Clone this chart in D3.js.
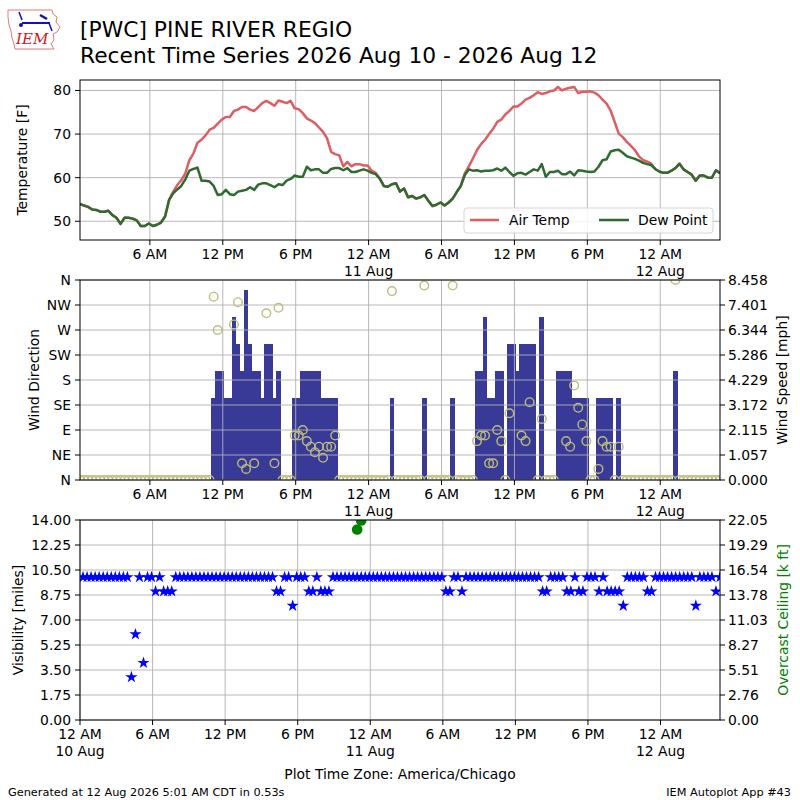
<!DOCTYPE html>
<html>
<head>
<meta charset="utf-8">
<script src="https://cdn.jsdelivr.net/npm/d3@7"></script>
<style>
  body { margin: 0; background: #fff; }
  svg text { font-family: "DejaVu Sans", sans-serif; fill: #000; }
</style>
</head>
<body>
<svg id="chart" width="800" height="800"></svg>
<script>
// observations every 20 minutes, first report 10 Aug 00:15 (plot time zone)
var obsStart = Date.UTC(2026, 7, 10, 0, 15);
var obsStepMin = 20;
var visStart = Date.UTC(2026, 7, 10, 0, 0);

var tmpf = [54.0, 53.6, 53.3, 52.7, 52.6, 52.2, 52.2, 52.4, 51.4, 50.8,
  49.4, 50.8, 50.8, 50.6, 50.2, 48.9, 48.9, 49.5, 48.9, 49.2,
  49.7, 51.1, 54.9, 56.8, 58.3, 59.4, 61.0, 64.0, 65.5, 68.0,
  68.7, 69.7, 71.0, 71.4, 72.4, 73.3, 73.9, 73.9, 75.3, 75.6,
  76.2, 76.2, 75.6, 75.3, 76.2, 77.1, 77.6, 77.1, 76.5, 77.7,
  77.4, 77.1, 77.6, 75.9, 75.7, 74.8, 73.6, 73.1, 72.5, 71.5,
  70.5, 69.0, 65.9, 65.4, 65.1, 62.6, 63.6, 62.6, 63.1, 63.1,
  62.8, 62.8, 61.6, 61.1, 59.8, 58.1, 57.9, 58.5, 58.7, 56.8,
  57.5, 55.5, 55.8, 55.2, 55.5, 56.0, 54.7, 53.5, 53.8, 54.3,
  53.6, 54.3, 55.2, 56.7, 58.1, 61.0, 62.6, 64.4, 66.3, 67.7,
  68.7, 70.0, 71.2, 72.8, 73.3, 74.5, 75.3, 76.3, 76.3, 77.0,
  77.9, 78.3, 78.9, 79.6, 79.2, 79.4, 79.8, 80.0, 80.8, 80.0,
  80.4, 80.6, 80.8, 79.4, 79.7, 79.7, 79.8, 79.5, 78.9, 77.9,
  77.0, 75.4, 72.8, 70.1, 69.3, 68.2, 67.3, 66.3, 64.9, 64.0,
  63.7, 63.2, 62.0, 61.4, 61.1, 61.1, 61.6, 62.2, 63.2, 61.9,
  61.3, 60.7, 59.3, 60.5, 60.5, 60.0, 60.0, 61.7, 61.0];

var dwpf = [54.0, 53.6, 53.3, 52.7, 52.6, 52.2, 52.2, 52.4, 51.4, 50.8,
  49.4, 50.8, 50.8, 50.6, 50.2, 48.9, 48.9, 49.5, 48.9, 49.2,
  49.7, 51.1, 54.9, 56.4, 57.3, 58.1, 59.6, 61.6, 62.0, 62.3,
  59.3, 59.3, 59.1, 58.1, 56.0, 56.2, 57.2, 56.2, 56.0, 56.8,
  57.0, 57.2, 57.8, 57.2, 58.4, 58.7, 58.7, 58.3, 57.8, 58.5,
  58.3, 59.3, 59.7, 60.5, 60.2, 60.2, 62.5, 61.7, 61.9, 61.9,
  61.1, 61.1, 62.0, 62.2, 62.2, 61.7, 62.2, 61.3, 61.3, 61.6,
  61.9, 61.6, 61.1, 60.8, 59.8, 58.1, 57.9, 58.5, 58.7, 56.8,
  57.5, 55.5, 55.8, 55.2, 55.5, 56.0, 54.7, 53.5, 53.8, 54.3,
  53.6, 54.3, 55.2, 56.7, 58.1, 60.6, 61.9, 61.6, 61.7, 61.4,
  61.6, 61.6, 61.7, 62.1, 61.6, 62.3, 61.3, 60.4, 61.0, 61.1,
  60.7, 61.3, 61.9, 61.6, 63.1, 60.2, 61.3, 61.3, 61.6, 60.8,
  60.8, 61.4, 60.5, 61.7, 61.6, 61.4, 61.3, 61.4, 62.5, 64.0,
  64.2, 66.0, 66.3, 66.4, 65.7, 64.9, 64.6, 64.3, 63.9, 63.4,
  63.1, 62.9, 62.0, 61.4, 61.1, 61.1, 61.6, 62.2, 63.2, 61.9,
  61.3, 60.7, 59.3, 60.5, 60.5, 60.0, 60.0, 61.7, 61.0];

// wind speed [mph]
var sped = [0, 0, 0, 0, 0, 0, 0, 0, 0, 0,
  0, 0, 0, 0, 0, 0, 0, 0, 0, 0,
  0, 0, 0, 0, 0, 0, 0, 0, 0, 0,
  0, 0, 0, 3.45, 4.6, 4.6, 3.45, 3.45, 6.9, 5.75,
  4.6, 8.05, 5.75, 4.6, 4.6, 3.45, 5.75, 5.75, 3.45, 4.6,
  0, 0, 0, 3.45, 3.45, 4.6, 4.6, 4.6, 4.6, 4.6,
  3.45, 3.45, 3.45, 3.45, 0, 0, 0, 0, 0, 0,
  0, 0, 0, 0, 0, 0, 0, 3.45, 0, 0,
  0, 0, 0, 0, 0, 3.45, 0, 0, 0, 0,
  0, 0, 3.45, 0, 0, 0, 0, 0, 4.6, 4.6,
  6.9, 3.45, 3.45, 4.6, 4.6, 0, 5.75, 5.75, 4.6, 5.75,
  5.75, 5.75, 5.75, 0, 6.9, 0, 0, 0, 4.6, 4.6,
  4.6, 4.6, 3.45, 3.45, 3.45, 3.45, 0, 0, 3.45, 3.45,
  3.45, 3.45, 0, 3.45, 0, 0, 0, 0, 0, 0,
  0, 0, 0, 0, 0, 0, 0, 4.6, 0, 0,
  0, 0, 0, 0, 0, 0, 0, 0, 0];

// wind direction [deg], null = not reported
var drct = [0, 0, 0, 0, 0, 0, 0, 0, 0, 0,
  0, 0, 0, 0, 0, 0, 0, 0, 0, 0,
  0, 0, 0, 0, 0, 0, 0, 0, 0, 0,
  0, 0, 0, 330, 270, null, null, null, 280, 320,
  30, 20, null, 30, null, null, 300, null, 30, 310,
  0, 0, 0, 80, 80, 90, 70, 60, 50, 60,
  40, 60, 60, 80, 0, 0, 0, 0, 0, 0,
  0, 0, 0, 0, 0, 0, 0, 340, 0, 0,
  0, 0, 0, 0, 0, 350, 0, 0, 0, 0,
  0, 0, 350, 0, 0, 0, 0, 0, 70, 80,
  80, 30, 30, 90, 70, 0, 120, null, null, 80,
  70, 140, null, 0, 110, 0, 0, 0, null, null,
  70, 60, 170, 130, 100, 70, 0, 0, 20, 70,
  60, 60, 0, 60, 0, 0, 0, 0, 0, 0,
  0, 0, 0, 0, 0, 0, 0, 360, 0, 0,
  0, 0, 0, 0, 0, 0, 0, 0, 0];

// visibility [miles]
var vsby = [10, 10, 10, 10, 10, 10, 10, 10, 10, 10,
  10, 10, 3, 6, 10, 4, 10, 10, 9, 10,
  9, 9, 9, 10, 10, 10, 10, 10, 10, 10,
  10, 10, 10, 10, 10, 10, 10, 10, 10, 10,
  10, 10, 10, 10, 10, 10, 10, 10, 9, 9,
  10, 10, 8, 10, 10, 10, 9, 9, 10, 9,
  9, 9, 10, 10, 10, 10, 10, 10, 10, 10,
  10, 10, 10, 10, 10, 10, 10, 10, 10, 10,
  10, 10, 10, 10, 10, 10, 10, 10, 10, 10,
  9, 9, 10, 10, 9, 10, 10, 10, 10, 10,
  10, 10, 10, 10, 10, 10, 10, 10, 10, 10,
  10, 10, 10, 10, 9, 9, 10, 10, 10, 10,
  9, 9, 10, 9, 9, 10, 10, 10, 9, 10,
  9, 9, 9, 9, 8, 10, 10, 10, 10, 10,
  9, 9, 10, 10, 10, 10, 10, 10, 10, 10,
  10, 10, 8, 10, 10, 10, 10, 9, 10];

// overcast ceiling [k ft]
var ceilTimes = [Date.UTC(2026, 7, 10, 22, 55), Date.UTC(2026, 7, 10, 23, 15)];
var ceilVals = [21, 22];

var dirLabels = ["N", "NE", "E", "SE", "S", "SW", "W", "NW", "N"];
var tempTicks = [50, 60, 70, 80];

var svg = d3.select("#chart");
var L = 80, R = 720;
var pTemp = [80, 240], pWind = [280, 480], pVis = [520, 720];
var fs = "13.9px";

var obs = tmpf.map(function(d, i) {
  return { t: new Date(obsStart + i * obsStepMin * 60000), tmpf: d, dwpf: dwpf[i],
           sped: sped[i], drct: drct[i], vsby: vsby[i] };
});
var lastT = obs[obs.length - 1].t;

var x = d3.scaleUtc().domain([obs[0].t, lastT]).range([L, R]);
var xVis = d3.scaleUtc().domain([new Date(visStart), lastT]).range([L, R]);

var yTemp = d3.scaleLinear().domain([45.7, 82.4]).range([pTemp[1], pTemp[0]]);
var yDir = d3.scaleLinear().domain([0, 360]).range([pWind[1], pWind[0]]);
var ySped = d3.scaleLinear().domain([0, 8.458]).range([pWind[1], pWind[0]]);
var yVis = d3.scaleLinear().domain([0, 14]).range([pVis[1], pVis[0]]);
var yCeil = d3.scaleLinear().domain([0, 22.05]).range([pVis[1], pVis[0]]);

var gridColor = "#b0b0b0";
var sixHours = d3.utcHour.every(6);

function clip(id, p) {
  svg.append("clipPath").attr("id", id).append("rect")
    .attr("x", L).attr("y", p[0]).attr("width", R - L).attr("height", p[1] - p[0]);
  return "url(#" + id + ")";
}

function grid(xs, ys, yticks, p) {
  var g = svg.append("g");
  g.selectAll("line.v").data(xs.ticks(sixHours)).join("line")
    .attr("x1", function(d) { return xs(d); }).attr("x2", function(d) { return xs(d); })
    .attr("y1", p[0]).attr("y2", p[1])
    .attr("stroke", gridColor).attr("stroke-width", 0.9);
  g.selectAll("line.h").data(yticks).join("line")
    .attr("x1", L).attr("x2", R)
    .attr("y1", function(d) { return ys(d); }).attr("y2", function(d) { return ys(d); })
    .attr("stroke", gridColor).attr("stroke-width", 0.9);
}

function frame(p) {
  svg.append("rect").attr("x", L).attr("y", p[0]).attr("width", R - L).attr("height", p[1] - p[0])
    .attr("fill", "none").attr("stroke", "#000").attr("stroke-width", 1);
}

function timeAxis(xs, p) {
  var g = svg.append("g");
  var ticks = xs.ticks(sixHours);
  var tk = g.selectAll("g").data(ticks).join("g")
    .attr("transform", function(d) { return "translate(" + xs(d) + "," + p[1] + ")"; });
  tk.append("line").attr("y2", 5).attr("stroke", "#000");
  var txt = tk.append("text").attr("text-anchor", "middle").style("font-size", fs);
  txt.append("tspan").attr("x", 0).attr("y", 19).text(d3.utcFormat("%-I %p"));
  txt.filter(function(d) { return d.getUTCHours() === 0; })
    .append("tspan").attr("x", 0).attr("y", 36).text(d3.utcFormat("%d %b"));
}

function leftAxis(ys, ticks, fmt) {
  var g = svg.append("g");
  ticks.forEach(function(v, i) {
    g.append("line").attr("x1", L - 5).attr("x2", L).attr("y1", ys(v)).attr("y2", ys(v)).attr("stroke", "#000");
    g.append("text").attr("x", L - 9).attr("y", ys(v)).attr("dy", "0.36em")
      .attr("text-anchor", "end").style("font-size", fs).text(fmt(v, i));
  });
}

function rightAxis(ys, ticks, fmt) {
  var g = svg.append("g");
  ticks.forEach(function(v) {
    g.append("line").attr("x1", R).attr("x2", R + 5).attr("y1", ys(v)).attr("y2", ys(v)).attr("stroke", "#000");
    g.append("text").attr("x", R + 8).attr("y", ys(v)).attr("dy", "0.36em")
      .style("font-size", fs).text(fmt(v));
  });
}

function yLabel(text, cx, cy, color) {
  svg.append("text").attr("transform", "translate(" + cx + "," + cy + ") rotate(-90)")
    .attr("text-anchor", "middle").attr("dy", "0.36em")
    .style("font-size", fs).style("fill", color || "#000").text(text);
}

// ---------- header ----------
var logo = svg.append("g");
logo.append("path")
  .attr("d", "M8,10 L52,10 L53,14 L57,17 L56,22 L60,27 L57,32 L53,34 L54,40 L51,44 L54,49 L15,49 L14,44 L12,38 L11,31 L9,25 L8,17 Z")
  .attr("fill", "none").attr("stroke", "#e07a7a").attr("stroke-width", 1);
logo.append("line").attr("x1", 22).attr("y1", 23).attr("x2", 50).attr("y2", 23).attr("stroke", "#1010c0").attr("stroke-width", 2);
logo.append("line").attr("x1", 40).attr("y1", 15).attr("x2", 47).attr("y2", 19).attr("stroke", "#1010c0").attr("stroke-width", 2.5);
logo.append("line").attr("x1", 19).attr("y1", 12).attr("x2", 22).attr("y2", 20).attr("stroke", "#1010c0").attr("stroke-width", 1.5);
logo.append("line").attr("x1", 49).attr("y1", 23).attr("x2", 52).attr("y2", 31).attr("stroke", "#1010c0").attr("stroke-width", 1.5);
logo.append("circle").attr("cx", 21).attr("cy", 25).attr("r", 2).attr("fill", "#1010c0");
logo.append("text").attr("x", 16).attr("y", 44)
  .style("font-family", "'DejaVu Serif', serif").style("font-style", "italic")
  .style("font-size", "15px").style("fill", "#c8202a").text("IEM");

svg.append("text").attr("x", 80).attr("y", 37).style("font-size", "21.8px").text("[PWC] PINE RIVER REGIO");
svg.append("text").attr("x", 80).attr("y", 63).style("font-size", "21.8px")
  .text("Recent Time Series 2026 Aug 10 - 2026 Aug 12");

// ---------- temperature panel ----------
grid(x, yTemp, tempTicks, pTemp);
var cTemp = clip("clipTemp", pTemp);
svg.append("path").datum(obs).attr("clip-path", cTemp)
  .attr("d", d3.line().x(function(d) { return x(d.t); }).y(function(d) { return yTemp(d.tmpf); }))
  .attr("fill", "none").attr("stroke", "#dc5e63").attr("stroke-width", 2.5).attr("stroke-linejoin", "round");
svg.append("path").datum(obs).attr("clip-path", cTemp)
  .attr("d", d3.line().x(function(d) { return x(d.t); }).y(function(d) { return yTemp(d.dwpf); }))
  .attr("fill", "none").attr("stroke", "#2f6a30").attr("stroke-width", 2.5).attr("stroke-linejoin", "round");
frame(pTemp);
leftAxis(yTemp, tempTicks, function(v) { return v; });
timeAxis(x, pTemp);
yLabel("Temperature [F]", 22, 160);

var lg = svg.append("g").attr("transform", "translate(464,208)");
lg.append("rect").attr("width", 249).attr("height", 25).attr("rx", 3)
  .attr("fill", "#fff").attr("fill-opacity", 0.85).attr("stroke", "#d5d5d5");
lg.append("line").attr("x1", 6).attr("x2", 35).attr("y1", 12).attr("y2", 12).attr("stroke", "#dc5e63").attr("stroke-width", 2.5);
lg.append("text").attr("x", 45).attr("y", 12).attr("dy", "0.36em").style("font-size", fs).text("Air Temp");
lg.append("line").attr("x1", 135).attr("x2", 165).attr("y1", 12).attr("y2", 12).attr("stroke", "#2f6a30").attr("stroke-width", 2.5);
lg.append("text").attr("x", 174).attr("y", 12).attr("dy", "0.36em").style("font-size", fs).text("Dew Point");

// ---------- wind panel ----------
var cWind = clip("clipWind", pWind);
var halfStep = obsStepMin / 2 * 60000;
svg.append("g").attr("clip-path", cWind).attr("shape-rendering", "crispEdges").selectAll("rect")
  .data(obs.filter(function(d) { return d.sped > 0; })).join("rect")
  .attr("x", function(d) { return x(new Date(+d.t - halfStep)) - 0.3; })
  .attr("width", function(d) { return x(new Date(+d.t + halfStep)) - x(new Date(+d.t - halfStep)) + 0.6; })
  .attr("y", function(d) { return ySped(d.sped); })
  .attr("height", function(d) { return ySped(0) - ySped(d.sped); })
  .attr("fill", "#393997");
var dirTicks = d3.range(0, 361, 45);
grid(x, yDir, dirTicks, pWind);
svg.append("g").attr("clip-path", cWind).selectAll("circle")
  .data(obs.filter(function(d) { return d.drct !== null; })).join("circle")
  .attr("cx", function(d) { return x(d.t); })
  .attr("cy", function(d) { return yDir(d.drct); })
  .attr("r", 4.3).attr("fill", "none").attr("stroke", "#bdbd7e").attr("stroke-width", 1.4);
frame(pWind);
leftAxis(yDir, dirTicks, function(v, i) { return dirLabels[i]; });
rightAxis(ySped, d3.range(9).map(function(k) { return ySped.domain()[1] * k / 8; }), d3.format(".3f"));
timeAxis(x, pWind);
yLabel("Wind Direction", 34, 380);
yLabel("Wind Speed [mph]", 782, 380);

// ---------- visibility panel ----------
var visTicks = d3.range(9).map(function(k) { return k * 1.75; });
grid(xVis, yVis, visTicks, pVis);
var cVis = clip("clipVis", pVis);
var star = d3.symbol().type(d3.symbolStar).size(46);
svg.append("g").attr("clip-path", cVis).selectAll("path")
  .data(obs).join("path")
  .attr("transform", function(d) { return "translate(" + xVis(d.t) + "," + yVis(d.vsby) + ")"; })
  .attr("d", star).attr("fill", "#0000ff");
svg.append("g").attr("clip-path", cVis).selectAll("circle")
  .data(ceilVals).join("circle")
  .attr("cx", function(d, i) { return xVis(new Date(ceilTimes[i])); })
  .attr("cy", function(d) { return yCeil(d); })
  .attr("r", 5.3).attr("fill", "#008000");
frame(pVis);
leftAxis(yVis, visTicks, d3.format(".2f"));
rightAxis(yCeil, d3.range(9).map(function(k) { return yCeil.domain()[1] * k / 8; }), d3.format(".2f"));
timeAxis(xVis, pVis);
yLabel("Visibility [miles]", 18, 620);
yLabel("Overcast Ceiling [k ft]", 783, 620, "#008000");

svg.append("text").attr("x", 400).attr("y", 779).attr("text-anchor", "middle")
  .style("font-size", fs).text("Plot Time Zone: America/Chicago");
svg.append("text").attr("x", 8).attr("y", 796).style("font-size", "11.3px")
  .text("Generated at 12 Aug 2026 5:01 AM CDT in 0.53s");
svg.append("text").attr("x", 791).attr("y", 796).attr("text-anchor", "end").style("font-size", "11.3px")
  .text("IEM Autoplot App #43");
</script>
</body>
</html>
